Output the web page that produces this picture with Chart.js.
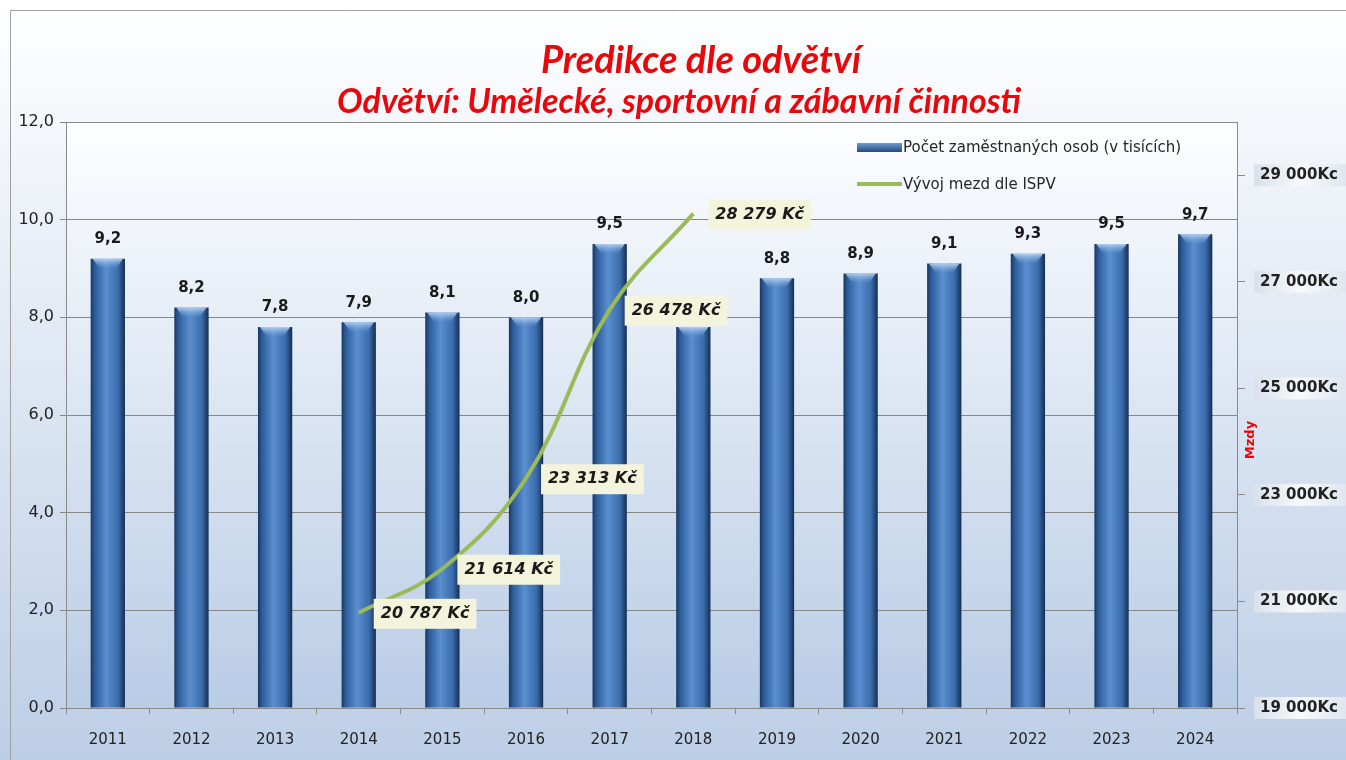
<!DOCTYPE html>
<html>
<head>
<meta charset="utf-8">
<script src="https://cdn.jsdelivr.net/npm/chart.js@4/dist/chart.umd.min.js"></script>
<style>
  html, body { margin: 0; padding: 0; background: #fff; }
  #wrap { width: 1346px; height: 760px; }
</style>
</head>
<body>
<div id="wrap"><canvas id="chart" width="1346" height="760"></canvas></div>
<script>
// Data
const years = ['2011', '2012', '2013', '2014', '2015', '2016', '2017', '2018', '2019', '2020', '2021', '2022', '2023', '2024'];
const employees = [9.2, 8.2, 7.8, 7.9, 8.1, 8.0, 9.5, 7.8, 8.8, 8.9, 9.1, 9.3, 9.5, 9.7];
const wages = [null, null, null, 20787, 21614, 23313, 26478, 28279, null, null, null, null, null, null];

const titleText = 'Predikce dle odvětví';
const subtitleText = 'Odvětví: Umělecké, sportovní a zábavní činnosti';
const barLabel = 'Počet zaměstnaných osob (v tisících)';
const lineLabel = 'Vývoj mezd dle ISPV';
const rightAxisTitle = 'Mzdy';

const BAR_PCT = 0.41;
const FONT = "'DejaVu Sans', Tahoma, sans-serif";
const TITLE_FONT = "Lato, 'Open Sans', sans-serif";

function czNumber(v) {
    return String(v).replace(/\B(?=(\d{3})+(?!\d))/g, ' ');
}

// Horizontal gradient across each bar to get the cylinder look
function barGradient(context) {
    const chart = context.chart;
    const area = chart.chartArea;
    if (!area) return '#4f81bd';
    const x = chart.scales.x.getPixelForValue(context.dataIndex);
    const half = (chart.scales.x.width / years.length) * BAR_PCT / 2;
    const g = chart.ctx.createLinearGradient(x - half, 0, x + half, 0);
    g.addColorStop(0, '#1a375f');
    g.addColorStop(0.12, '#2d5c9a');
    g.addColorStop(0.45, '#5a8fd0');
    g.addColorStop(0.8, '#3b6cab');
    g.addColorStop(1, '#142e54');
    return g;
}

// Backgrounds, titles, right axis label boxes
const backdropPlugin = {
    id: 'backdrop',
    beforeDraw(chart) {
        const ctx = chart.ctx;
        const a = chart.chartArea;
        ctx.save();
        let g = ctx.createLinearGradient(0, 0, 0, chart.height);
        g.addColorStop(0, '#ffffff');
        g.addColorStop(1, '#bccee6');
        ctx.fillStyle = g;
        ctx.fillRect(0, 0, chart.width, chart.height);
        ctx.strokeStyle = '#a0a0a0';
        ctx.lineWidth = 1;
        ctx.beginPath();
        ctx.moveTo(10.5, chart.height);
        ctx.lineTo(10.5, 10.5);
        ctx.lineTo(chart.width, 10.5);
        ctx.stroke();

        ctx.fillStyle = '#e8080c';
        ctx.textAlign = 'center';
        ctx.textBaseline = 'alphabetic';
        ctx.font = "italic bold 38px " + TITLE_FONT;
        ctx.fillText(titleText, 701, 73);
        ctx.font = "italic bold 34px " + TITLE_FONT;
        ctx.fillText(subtitleText, 679, 113);

        g = ctx.createLinearGradient(0, a.top, 0, a.bottom);
        g.addColorStop(0, '#fdfeff');
        g.addColorStop(1, '#b9cce6');
        ctx.fillStyle = g;
        ctx.fillRect(a.left, a.top, a.right - a.left, a.bottom - a.top);

        // boxes behind right axis tick labels
        const y1 = chart.scales.y1;
        y1.ticks.forEach(t => {
            const py = y1.getPixelForValue(t.value);
            const bg = ctx.createLinearGradient(1254, 0, 1346, 0);
            bg.addColorStop(0, '#d9e1ec');
            bg.addColorStop(0.5, '#f7f9fb');
            bg.addColorStop(1, '#dfe6ef');
            ctx.fillStyle = bg;
            ctx.fillRect(1254, py - 11, 92, 22);
        });

        ctx.translate(1251, 440);
        ctx.rotate(-Math.PI / 2);
        ctx.fillStyle = '#e8080c';
        ctx.font = "bold 13px " + FONT;
        ctx.textAlign = 'center';
        ctx.textBaseline = 'middle';
        ctx.fillText(rightAxisTitle, 0, 0);
        ctx.restore();
    }
};

// Value labels, bar caps and the legend
const labelsPlugin = {
    id: 'labels',
    afterDatasetsDraw(chart) {
        const ctx = chart.ctx;
        ctx.save();
        const bars = chart.getDatasetMeta(0).data;
        bars.forEach((bar, i) => {
            // light bevel at the top of each bar
            const w = bar.width;
            const g = ctx.createLinearGradient(0, bar.y, 0, bar.y + 10);
            g.addColorStop(0, 'rgba(190,215,245,0.9)');
            g.addColorStop(1, 'rgba(120,165,220,0)');
            ctx.fillStyle = g;
            ctx.beginPath();
            ctx.moveTo(bar.x - w / 2 + 2, bar.y);
            ctx.lineTo(bar.x + w / 2 - 2, bar.y);
            ctx.lineTo(bar.x + w / 2 - 9, bar.y + 10);
            ctx.lineTo(bar.x - w / 2 + 9, bar.y + 10);
            ctx.closePath();
            ctx.fill();

            ctx.fillStyle = '#1a1a1a';
            ctx.font = "bold 15px " + FONT;
            ctx.textAlign = 'center';
            ctx.textBaseline = 'bottom';
            ctx.fillText(employees[i].toFixed(1).replace('.', ','), bar.x, bar.y - 12);
        });

        const pts = chart.getDatasetMeta(1).data;
        pts.forEach((p, i) => {
            if (wages[i] == null) return;
            const txt = czNumber(wages[i]) + ' Kč';
            ctx.font = "italic bold 16px " + FONT;
            const tw = ctx.measureText(txt).width;
            const bx = p.x + 15;
            const by = p.y - 14;
            ctx.fillStyle = '#f4f4dc';
            ctx.fillRect(bx, by, tw + 14, 30);
            ctx.fillStyle = '#1a1a1a';
            ctx.textAlign = 'left';
            ctx.textBaseline = 'middle';
            ctx.fillText(txt, bx + 7, by + 15);
        });

        // legend
        let lg = ctx.createLinearGradient(0, 143, 0, 152);
        lg.addColorStop(0, '#6e9bd4');
        lg.addColorStop(1, '#254a7c');
        ctx.fillStyle = lg;
        ctx.fillRect(857, 143, 45, 9);
        ctx.strokeStyle = '#9bbb59';
        ctx.lineWidth = 4;
        ctx.beginPath();
        ctx.moveTo(857, 184);
        ctx.lineTo(902, 184);
        ctx.stroke();
        ctx.fillStyle = '#262626';
        ctx.font = "15px " + FONT;
        ctx.textAlign = 'left';
        ctx.textBaseline = 'middle';
        ctx.fillText(barLabel, 903, 148);
        ctx.fillText(lineLabel, 903, 185);
        ctx.restore();
    }
};

const ctx = document.getElementById('chart').getContext('2d');
const chart = new Chart(ctx, {
    data: {
        labels: years,
        datasets: [
            {
                type: 'bar',
                label: barLabel,
                data: employees,
                backgroundColor: barGradient,
                borderWidth: 0,
                barPercentage: BAR_PCT,
                categoryPercentage: 1,
                yAxisID: 'y',
                order: 2
            },
            {
                type: 'line',
                label: lineLabel,
                data: wages,
                borderColor: '#9bbb59',
                borderWidth: 4,
                pointRadius: 0,
                tension: 0.4,
                spanGaps: false,
                yAxisID: 'y1',
                order: 1
            }
        ]
    },
    options: {
        responsive: false,
        animation: false,
        devicePixelRatio: 1,
        layout: { padding: { top: 122, left: 0, right: 0, bottom: 0 } },
        plugins: {
            legend: { display: false },
            title: { display: false },
            tooltip: { enabled: false }
        },
        scales: {
            x: {
                grid: { display: true, drawOnChartArea: false, tickLength: 6, color: '#8a8a8a', offset: true },
                border: { color: '#8a8a8a' },
                ticks: { color: '#222', font: { family: FONT, size: 15 }, padding: 17 },
                afterFit(scale) { scale.height = 52; }
            },
            y: {
                position: 'left',
                min: 0,
                max: 12,
                ticks: {
                    stepSize: 2,
                    color: '#222',
                    font: { family: FONT, size: 16 },
                    padding: 6,
                    callback: v => v.toFixed(1).replace('.', ',')
                },
                grid: { color: '#878787', tickLength: 6 },
                border: { color: '#8a8a8a' },
                afterFit(scale) { scale.width = 66; }
            },
            y1: {
                position: 'right',
                min: 19000,
                max: 30000,
                afterBuildTicks(scale) {
                    scale.ticks = [19000, 21000, 23000, 25000, 27000, 29000].map(v => ({ value: v }));
                },
                ticks: {
                    color: '#222',
                    font: { family: FONT, size: 15, weight: 'bold' },
                    padding: 15,
                    callback: v => czNumber(v) + 'Kc'
                },
                grid: { drawOnChartArea: false, tickLength: 8, color: '#8a8a8a' },
                border: { color: '#8a8a8a' },
                afterFit(scale) { scale.width = 109; }
            }
        }
    },
    plugins: [backdropPlugin, labelsPlugin]
});
</script>
</body>
</html>
